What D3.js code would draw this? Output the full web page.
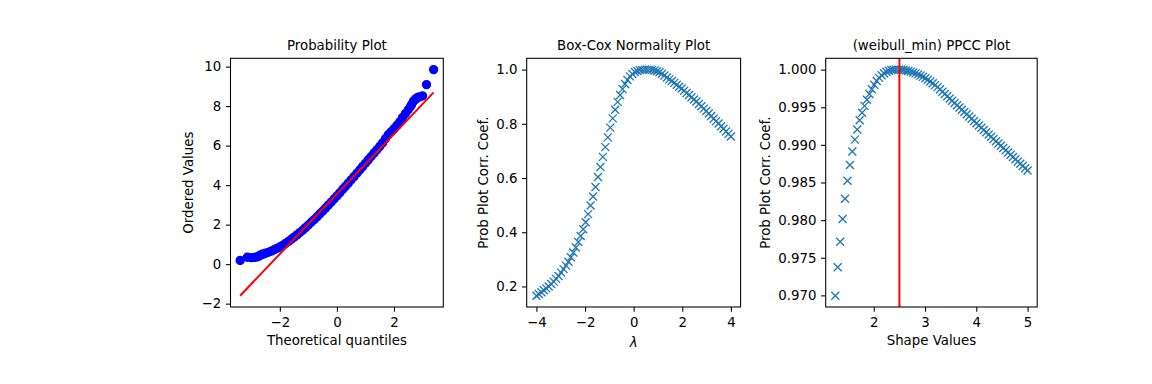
<!DOCTYPE html>
<html>
<head>
<meta charset="utf-8">
<script src="https://cdn.jsdelivr.net/npm/d3@7"></script>
<style>
body { margin: 0; background: #fff; }
svg text { font-family: "DejaVu Sans", sans-serif; fill: #000; }
</style>
</head>
<body>
<svg id="fig" width="1152" height="384"></svg>
<script>
// probability plot: theoretical quantiles vs ordered values
var probOsm = [-3.39, -3.14, -3.00, -2.90, -2.83, -2.77, -2.72, -2.68, -2.62, -2.58,
  -2.5, -2.4, -2.3, -2.2, -2.1, -2.0, -1.9, -1.8, -1.7, -1.6,
  -1.5, -1.4, -1.3, -1.2, -1.1, -1.0, -0.9, -0.8, -0.7, -0.6,
  -0.5, -0.4, -0.3, -0.2, -0.1, 0.0, 0.1, 0.2, 0.3, 0.4,
  0.5, 0.6, 0.7, 0.8, 0.9, 1.0, 1.1, 1.2, 1.3, 1.4,
  1.5, 1.6, 1.7, 1.8, 1.9, 2.0, 2.1, 2.2, 2.3, 2.4, 2.5,
  2.58, 2.62, 2.68, 2.72, 2.77, 2.83, 2.90, 3.00, 3.14, 3.39];
var probOsr = [0.19, 0.35, 0.33, 0.34, 0.36, 0.38, 0.42, 0.46, 0.50, 0.51,
  0.55, 0.60, 0.66, 0.73, 0.80, 0.87, 0.95, 1.05, 1.15, 1.26,
  1.37, 1.48, 1.60, 1.72, 1.85, 1.98, 2.12, 2.25, 2.39, 2.54,
  2.68, 2.83, 2.99, 3.14, 3.30, 3.45, 3.61, 3.78, 3.94, 4.10,
  4.27, 4.43, 4.60, 4.77, 4.94, 5.11, 5.28, 5.45, 5.62, 5.79,
  5.96, 6.14, 6.35, 6.55, 6.70, 6.85, 7.02, 7.20, 7.42, 7.62, 7.82,
  7.98, 8.08, 8.25, 8.30, 8.38, 8.44, 8.47, 8.52, 9.09, 9.85];
var fitX = [-3.39, 3.39];
var fitY = [-1.597, 8.695];

// box-cox normality plot
var bcLambda = [-4.000,-3.899,-3.797,-3.696,-3.595,-3.494,-3.392,-3.291,-3.190,-3.089,
  -2.987,-2.886,-2.785,-2.684,-2.582,-2.481,-2.380,-2.278,-2.177,-2.076,
  -1.975,-1.873,-1.772,-1.671,-1.570,-1.468,-1.367,-1.266,-1.165,-1.063,
  -0.962,-0.861,-0.759,-0.658,-0.557,-0.456,-0.354,-0.253,-0.152,-0.051,
  0.051,0.152,0.253,0.354,0.456,0.557,0.658,0.759,0.861,0.962,
  1.063,1.165,1.266,1.367,1.468,1.570,1.671,1.772,1.873,1.975,
  2.076,2.177,2.278,2.380,2.481,2.582,2.684,2.785,2.886,2.987,
  3.089,3.190,3.291,3.392,3.494,3.595,3.696,3.797,3.899,4.000];
var bcCoef = [0.166,0.172,0.179,0.186,0.193,0.200,0.209,0.218,0.228,0.239,
  0.251,0.264,0.277,0.291,0.308,0.325,0.344,0.364,0.386,0.411,
  0.437,0.467,0.499,0.532,0.567,0.604,0.641,0.678,0.714,0.750,
  0.786,0.820,0.852,0.881,0.906,0.928,0.947,0.962,0.975,0.984,
  0.991,0.995,0.998,0.999,1.000,1.000,1.000,0.999,0.997,0.994,
  0.990,0.985,0.978,0.971,0.964,0.958,0.951,0.944,0.937,0.930,
  0.922,0.914,0.906,0.898,0.890,0.882,0.873,0.865,0.856,0.847,
  0.838,0.829,0.819,0.810,0.801,0.791,0.782,0.772,0.763,0.753];

// weibull_min ppcc plot
var ppccShape = [1.250,1.297,1.345,1.392,1.440,1.487,1.535,1.582,1.630,1.677,
  1.725,1.772,1.820,1.867,1.915,1.962,2.009,2.057,2.104,2.152,
  2.199,2.247,2.294,2.342,2.389,2.437,2.484,2.532,2.579,2.627,
  2.674,2.722,2.769,2.816,2.864,2.911,2.959,3.006,3.054,3.101,
  3.149,3.196,3.244,3.291,3.339,3.386,3.434,3.481,3.528,3.576,
  3.623,3.671,3.718,3.766,3.813,3.861,3.908,3.956,4.003,4.051,
  4.098,4.146,4.193,4.241,4.288,4.335,4.383,4.430,4.478,4.525,
  4.573,4.620,4.668,4.715,4.763,4.810,4.858,4.905,4.953,5.000];
var ppccCoef = [0.96996,0.97375,0.97713,0.98016,0.98285,0.98524,0.98733,0.98912,0.99070,0.99205,
  0.99327,0.99428,0.99518,0.99600,0.99675,0.99740,0.99798,0.99848,0.99890,0.99925,
  0.99952,0.99972,0.99986,0.99995,0.99999,1.00000,1.00000,0.99998,0.99994,0.99988,
  0.99981,0.99973,0.99962,0.99950,0.99937,0.99921,0.99904,0.99885,0.99865,0.99843,
  0.99819,0.99794,0.99767,0.99738,0.99706,0.99676,0.99646,0.99616,0.99586,0.99556,
  0.99526,0.99496,0.99466,0.99437,0.99407,0.99377,0.99347,0.99317,0.99287,0.99257,
  0.99227,0.99197,0.99167,0.99137,0.99108,0.99078,0.99048,0.99018,0.98988,0.98958,
  0.98928,0.98898,0.98868,0.98838,0.98808,0.98779,0.98749,0.98719,0.98689,0.98659];
var bestShape = 2.5;

// tick values
var probXTicks = [-2, 0, 2];
var probYTicks = [-2, 0, 2, 4, 6, 8, 10];
var bcXTicks = [-4, -2, 0, 2, 4];
var bcYTicks = [0.2, 0.4, 0.6, 0.8, 1.0];
var ppccXTicks = [2, 3, 4, 5];
var ppccYTicks = [0.970, 0.975, 0.980, 0.985, 0.990, 0.995, 1.000];

var svg = d3.select("#fig");
var top_ = 58.3, bottom = 307;
var tick = 4.67;
var fs = "13.33px";

// matplotlib style 5% margin
var pad = function(ext){
  var d = ext[1] - ext[0];
  return [ext[0] - 0.05 * d, ext[1] + 0.05 * d];
};

var panel = function(o){
  var x = d3.scaleLinear().domain(o.xDomain).range([o.left, o.right]);
  var y = d3.scaleLinear().domain(o.yDomain).range([bottom, top_]);
  var g = svg.append("g");
  var marks = g.append("g");

  var xa = g.append("g").
    attr("transform", "translate(0," + bottom + ")").
    call(d3.axisBottom(x).tickValues(o.xTicks).tickFormat(o.xFmt).tickSize(tick).tickPadding(6.3));
  var ya = g.append("g").
    attr("transform", "translate(" + o.left + ",0)").
    call(d3.axisLeft(y).tickValues(o.yTicks).tickFormat(o.yFmt).tickSize(tick).tickPadding(tick));
  [xa, ya].forEach(function(a){
    a.select(".domain").remove();
    a.attr("font-size", null).attr("font-family", null);
    a.selectAll("text").style("font-size", fs);
    a.selectAll("line").attr("stroke-width", 1.07);
  });

  g.append("rect").
    attr("x", o.left).attr("y", top_).
    attr("width", o.right - o.left).attr("height", bottom - top_).
    attr("fill", "none").attr("stroke", "#000").attr("stroke-width", 1.07);

  g.append("text").
    attr("x", (o.left + o.right) / 2).attr("y", 50.3).
    attr("text-anchor", "middle").style("font-size", fs).
    text(o.title);

  var xl = g.append("text").
    attr("x", (o.left + o.right) / 2).attr("y", o.xLabelY).
    attr("text-anchor", "middle").style("font-size", fs).
    text(o.xLabel);
  if(o.italic) xl.style("font-style", "italic");

  var w = 0;
  ya.selectAll("text").each(function(){ w = Math.max(w, this.getComputedTextLength()); });
  var lx = o.left - tick - tick - w - 5.33 - 3.1;
  g.append("text").
    attr("transform", "translate(" + lx + "," + ((top_ + bottom) / 2) + ") rotate(-90)").
    attr("text-anchor", "middle").style("font-size", fs).
    text(o.yLabel);

  return {marks: marks, x: x, y: y};
};

var cross = "M-4,-4L4,4M-4,4L4,-4";

// panel 1
var p1 = panel({
  left: 230.5, right: 443.3,
  xDomain: pad(d3.extent(probOsm)),
  yDomain: pad([Math.min(d3.min(probOsr), d3.min(fitY)), Math.max(d3.max(probOsr), d3.max(fitY))]),
  xTicks: probXTicks, yTicks: probYTicks,
  xFmt: d3.format("d"), yFmt: d3.format("d"),
  title: "Probability Plot", xLabel: "Theoretical quantiles", yLabel: "Ordered Values",
  xLabelY: 344.5
});
probOsm.forEach(function(v, i){
  p1.marks.append("circle").
    attr("cx", p1.x(v)).
    attr("cy", p1.y(probOsr[i])).
    attr("r", 4).
    attr("fill", "#0000ff").
    attr("stroke", "#0000ff").
    attr("stroke-width", 1.33);
});
p1.marks.append("line").
  attr("x1", p1.x(fitX[0])).attr("y1", p1.y(fitY[0])).
  attr("x2", p1.x(fitX[1])).attr("y2", p1.y(fitY[1])).
  attr("stroke", "#ff0000").attr("stroke-width", 2);

// panel 2
var p2 = panel({
  left: 526.7, right: 740.6,
  xDomain: pad(d3.extent(bcLambda)),
  yDomain: pad(d3.extent(bcCoef)),
  xTicks: bcXTicks, yTicks: bcYTicks,
  xFmt: d3.format("d"), yFmt: d3.format(".1f"),
  title: "Box-Cox Normality Plot", xLabel: "\u03bb", yLabel: "Prob Plot Corr. Coef.",
  xLabelY: 346.5, italic: true
});
bcLambda.forEach(function(v, i){
  p2.marks.append("path").
    attr("d", cross).
    attr("transform", "translate(" + p2.x(v) + "," + p2.y(bcCoef[i]) + ")").
    attr("fill", "none").
    attr("stroke", "#1f77b4").
    attr("stroke-width", 1.33);
});

// panel 3
var p3 = panel({
  left: 825.7, right: 1037.2,
  xDomain: pad(d3.extent(ppccShape)),
  yDomain: pad(d3.extent(ppccCoef)),
  xTicks: ppccXTicks, yTicks: ppccYTicks,
  xFmt: d3.format("d"), yFmt: d3.format(".3f"),
  title: "(weibull_min) PPCC Plot", xLabel: "Shape Values", yLabel: "Prob Plot Corr. Coef.",
  xLabelY: 344.5
});
ppccShape.forEach(function(v, i){
  p3.marks.append("path").
    attr("d", cross).
    attr("transform", "translate(" + p3.x(v) + "," + p3.y(ppccCoef[i]) + ")").
    attr("fill", "none").
    attr("stroke", "#1f77b4").
    attr("stroke-width", 1.33);
});
p3.marks.append("line").
  attr("x1", p3.x(bestShape)).attr("x2", p3.x(bestShape)).
  attr("y1", top_).attr("y2", bottom).
  attr("stroke", "#ff0000").attr("stroke-width", 2);
</script>
</body>
</html>
